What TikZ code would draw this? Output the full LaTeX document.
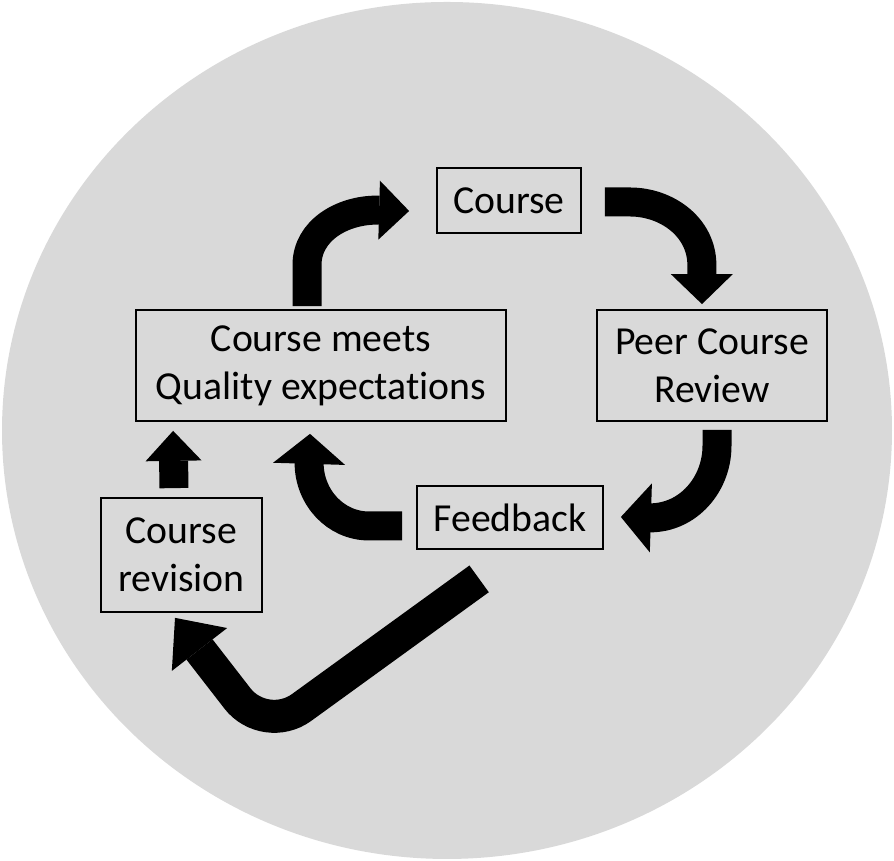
\documentclass[tikz,border=0pt]{standalone}
\usepackage{fontspec}
\setmainfont{Carlito}[Ligatures=NoCommon]
\usetikzlibrary{arrows.meta,calc}
\definecolor{bggray}{HTML}{D9D9D9}

\begin{document}
\begin{tikzpicture}[
    box/.style={draw=black, line width=0.5pt, fill=bggray, align=center, inner sep=0pt,
        font=\fontsize{11.3}{13.7}\selectfont},
    bigarrow/.style={line width=0.29cm, -{Triangle[width=#1, length=0.3cm, line width=0pt]}},
    bigarrow/.default=0.64cm]
    % background disc
    \useasboundingbox (0,0) rectangle (8.94,8.61);
    \fill[bggray] (4.47,4.305) ellipse [x radius=4.45, y radius=4.285];

    % boxes
    \node[box, minimum width=1.44cm, minimum height=0.65cm] (course) at (5.09,6.605) {Course};
    \node[box, minimum width=3.70cm, minimum height=1.11cm] (quality) at (3.21,4.955) {Course meets\\Quality expectations};
    \node[box, minimum width=2.30cm, minimum height=1.11cm] (peer) at (7.12,4.955) {Peer Course\\Review};
    \node[box, minimum width=1.86cm, minimum height=0.63cm] (feedback) at (5.10,3.435) {Feedback};
    \node[box, minimum width=1.61cm, minimum height=1.14cm] (revision) at (1.815,3.06) {Course\\revision};

    % curved arrows of the cycle
    \draw[bigarrow=0.59cm] ([xshift=-0.14cm,yshift=0.03cm]quality.north) -- ++(0,0.41)
        to[out=90,in=180] ++(0.70,0.55) -- ([xshift=-0.27cm,yshift=-0.105cm]course.west);
    \draw[bigarrow=0.62cm] ([xshift=0.23cm,yshift=-0.015cm]course.east) -- ++(0.25,0)
        to[out=0,in=90] ++(0.72,-0.63) -- ([xshift=-0.10cm,yshift=0.05cm]peer.north);
    \draw[bigarrow=0.69cm] ([xshift=0.05cm,yshift=-0.08cm]peer.south) -- ++(0,-0.16)
        to[out=-90,in=0] ++(-0.67,-0.72) -- ([xshift=0.17cm,yshift=0.005cm]feedback.east);
    \draw[bigarrow=0.72cm] ([xshift=-0.14cm,yshift=-0.085cm]feedback.west) -- ++(-0.33,0)
        to[out=180,in=-90] ++(-0.60,0.63) -- ([xshift=-0.11cm,yshift=-0.12cm]quality.south);

    % revision back up
    \draw[bigarrow=0.56cm] ([xshift=-0.075cm,yshift=0.09cm]revision.north)
        -- ([xshift=0.38cm,yshift=-0.09cm]quality.south west);

    % feedback down to revision
    \coordinate (bend) at (2.65,1.27);
    \draw[line width=0.33cm, rounded corners=0.45cm, -{Triangle[width=0.7cm, length=0.4cm, line width=0pt]}]
        ([xshift=0.63cm,yshift=-0.29cm]feedback.south west) -- (bend)
        -- ([xshift=-0.065cm,yshift=-0.05cm]revision.south);
\end{tikzpicture}
\end{document}
